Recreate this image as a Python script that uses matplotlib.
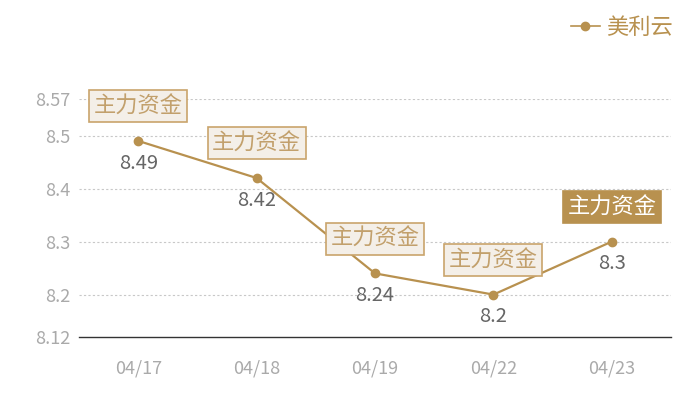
import matplotlib
matplotlib.use("Agg")
import matplotlib.pyplot as plt
from matplotlib.lines import Line2D

plt.rcParams['font.family'] = ['Noto Sans CJK SC', 'DejaVu Sans']

# data
dates = ['04/17', '04/18', '04/19', '04/22', '04/23']
prices = [8.49, 8.42, 8.24, 8.2, 8.3]
yticks = [8.12, 8.2, 8.3, 8.4, 8.5, 8.57]
tag_text = '主力资金'
series_name = '美利云'

gold = '#b8914f'
tag_edge = '#c9a46c'
tag_face = '#f4efe8'
tag_font = '#c2a06c'

fig = plt.figure(figsize=(7, 4), dpi=100)
ax = fig.add_axes([79 / 700, 1 - 337 / 400, 592 / 700, (337 - 98.5) / 400])

x = list(range(len(dates)))
ax.plot(x, prices, color=gold, lw=1.6, marker='o', ms=6, zorder=3)

ax.set_xlim(-0.5, len(dates) - 0.5)
ax.set_ylim(yticks[0], yticks[-1])
ax.set_yticks(yticks)
ax.set_yticklabels([f'{v:g}' for v in yticks])
ax.set_xticks(x)
ax.set_xticklabels(dates)

for v in yticks[1:]:
    ax.axhline(v, color='#c8c8c8', lw=0.8, ls=(0, (2, 2)), zorder=1)

for s in ['top', 'right', 'left']:
    ax.spines[s].set_visible(False)
ax.spines['bottom'].set_color('#333333')
ax.spines['bottom'].set_linewidth(1.0)
ax.tick_params(axis='both', length=0, colors='#aaaaaa', labelsize=13)
ax.tick_params(axis='x', pad=16)
ax.tick_params(axis='y', pad=6)

# value labels and tags
for i, v in enumerate(prices):
    ax.annotate(f'{v:g}', (i, v), xytext=(0, -16), textcoords='offset points',
                ha='center', va='center', fontsize=14.5, color='#666666', zorder=4)
    last = i == len(prices) - 1
    ax.annotate(tag_text, (i, v), xytext=(0, 25), textcoords='offset points',
                ha='center', va='center', fontsize=16,
                color='white' if last else tag_font,
                bbox=dict(boxstyle='square,pad=0.2',
                          fc=gold if last else tag_face,
                          ec=gold if last else tag_edge, lw=1.2),
                zorder=5)

handle = Line2D([], [], color=gold, lw=1.2, marker='o', ms=6)
fig.legend([handle], [series_name], loc='upper right', bbox_to_anchor=(0.99, 1.01),
           frameon=False, fontsize=16, labelcolor=gold, handlelength=1.3,
           handletextpad=0.3)

fig.savefig('out.png', dpi=100)
